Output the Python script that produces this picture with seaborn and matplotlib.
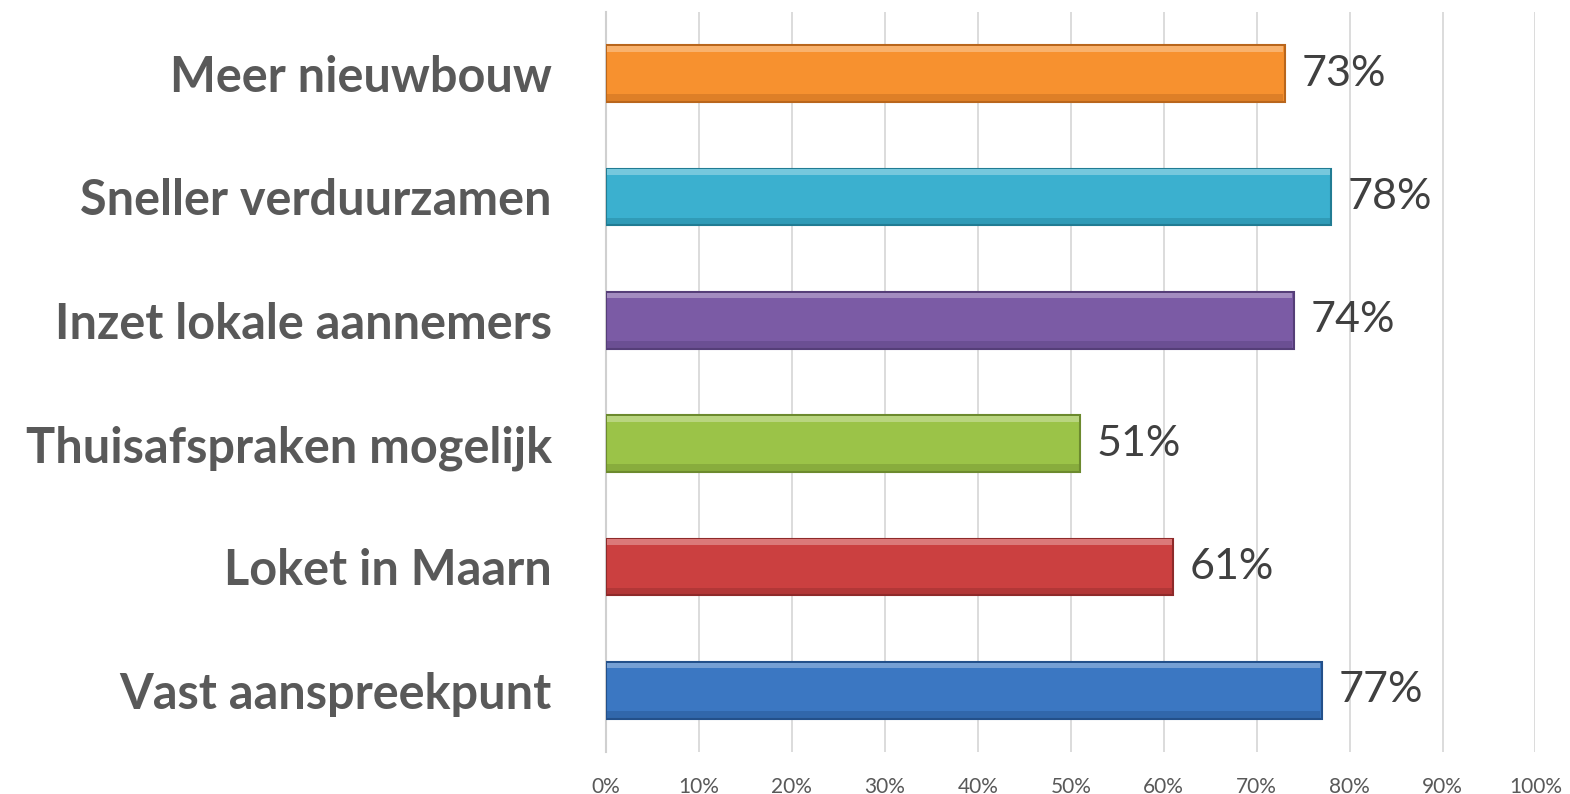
import matplotlib
matplotlib.use("Agg")
import matplotlib.pyplot as plt
import matplotlib.colors as mcolors
import seaborn as sns
import pandas as pd
import numpy as np

categories = ["Meer nieuwbouw", "Sneller verduurzamen", "Inzet lokale aannemers",
              "Thuisafspraken mogelijk", "Loket in Maarn", "Vast aanspreekpunt"]
values = [73, 78, 74, 51, 61, 77]
colors = ["#F7912F", "#3BB0CF", "#7B5BA5", "#9BC348", "#CB4040", "#3B77C2"]
edge_colors = ["#B9661C", "#217C93", "#553E78", "#6C8A2E", "#8E2A2A", "#23508A"]
x_ticks = list(range(0, 101, 10))
x_ticklabels = [f"{t}%" for t in x_ticks]

sns.set_theme(style="white")
plt.rcParams["font.family"] = ["Lato", "DejaVu Sans"]

df = pd.DataFrame({"cat": categories, "val": values})

fig = plt.figure(figsize=(15.70, 7.94), dpi=100)
ax = fig.add_axes([0.386, 0.053, 0.592, 0.932])

bar_w = 0.46
sns.barplot(data=df, y="cat", x="val", hue="cat", palette=colors, orient="h",
            width=bar_w, legend=False, ax=ax, saturation=1, zorder=3)

for patch, ec in zip(ax.patches, edge_colors):
    patch.set_edgecolor(ec)
    patch.set_linewidth(1.5)

# bevel-like highlight and shade strips
ypos = np.arange(len(categories))
for i, (v, c, ec) in enumerate(zip(values, colors, edge_colors)):
    light = mcolors.to_rgb(c)
    light = tuple(min(1, x + (1 - x) * 0.3) for x in light)
    ax.barh(ypos[i] - bar_w / 2 + 0.03, v - 0.3, height=0.045, left=0.15,
            color=light, zorder=4, linewidth=0)
    ax.barh(ypos[i] + bar_w / 2 - 0.035, v - 0.3, height=0.055, left=0.15,
            color=ec, alpha=0.4, zorder=4, linewidth=0)

ax.set_xlim(0, 100)
ax.set_ylim(len(categories) - 0.5, -0.5)
ax.set_xticks(x_ticks)
ax.set_xticklabels(x_ticklabels)
ax.set_xlabel("")
ax.set_ylabel("")
ax.grid(axis="x", color="#D9D9D9", linewidth=1.3, zorder=0)
ax.set_axisbelow(True)

for s in ["top", "right", "bottom"]:
    ax.spines[s].set_visible(False)
ax.spines["left"].set_color("#D0D0D0")
ax.spines["left"].set_linewidth(1.5)

ax.set_yticks(list(ypos))
ax.set_yticklabels(categories)
ax.set_yticks([i - 0.5 for i in range(len(categories) + 1)], minor=True)
ax.tick_params(axis="y", which="major", length=0, pad=39, labelsize=35,
               labelcolor="#595959")
for lbl in ax.get_yticklabels():
    lbl.set_fontweight("bold")
ax.tick_params(axis="y", which="minor", length=9, width=1.5, color="#D0D0D0",
               direction="out")
ax.tick_params(axis="x", length=0, pad=18, labelsize=15, labelcolor="#595959")

for i, v in enumerate(values):
    ax.text(v + 1.8, i, f"{v}%", va="center", ha="left", fontsize=31,
            color="#404040")

fig.savefig("out.png", dpi=100)
